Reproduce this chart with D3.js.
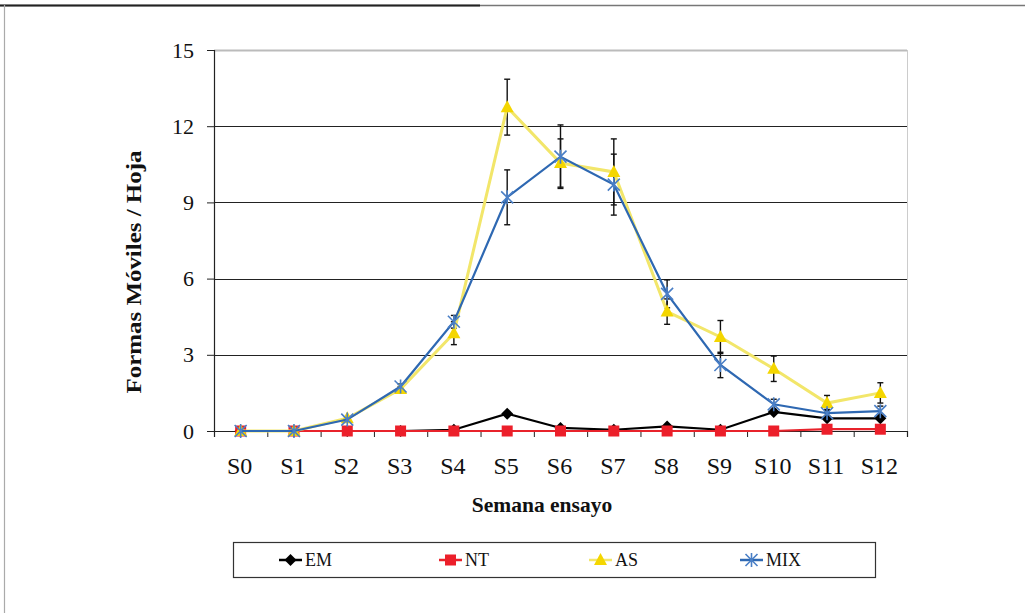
<!DOCTYPE html>
<html><head><meta charset="utf-8">
<script src="https://cdn.jsdelivr.net/npm/d3@7"></script>
<style>body{margin:0;background:#fff}svg{display:block}</style>
</head><body>
<svg id="c" width="1025" height="613"></svg>
<script>
const categories = ["S0","S1","S2","S3","S4","S5","S6","S7","S8","S9","S10","S11","S12"];
const EM  = [0,0,0,0,0.05,0.68,0.12,0.05,0.18,0.05,0.75,0.5,0.5];
const NT  = [0,0,0,0,0,0,0,0,0,0,0,0.07,0.07];
const AS  = [0,0,0.5,1.65,3.85,12.75,10.55,10.2,4.7,3.7,2.45,1.1,1.5];
const MIX = [0,0,0.45,1.75,4.3,9.2,10.8,9.7,5.4,2.6,1.05,0.7,0.78];
const AS_err  = [0,0,0.05,0.1,0.45,1.1,0.95,1.3,0.5,0.65,0.5,0.3,0.4];
const MIX_err = [0,0,0.05,0.1,0.25,1.08,1.25,1.2,0.55,0.5,0.2,0.15,0.2];
const yTicks = [0,3,6,9,12,15];
const seriesNames = ["EM","NT","AS","MIX"];

const svg = d3.select("#c");
const L = 214, R = 907, T = 50, B = 431;
const x = d3.scaleBand().domain(categories).range([L,R]).padding(0);
const xi = d3.scaleLinear().domain([0,categories.length]).range([L,R]);
const y = d3.scaleLinear().domain([0,15]).range([B,T]);
const cx = c => x(c) + x.bandwidth()/2;
const serif = "Liberation Serif";

// outer frame
svg.append("line").attr("x1",0).attr("x2",1025).attr("y1",5.5).attr("y2",5.5).attr("stroke","#777").attr("stroke-width",1.5);
svg.append("line").attr("x1",0).attr("x2",480).attr("y1",5.5).attr("y2",5.5).attr("stroke","#222").attr("stroke-width",2);
svg.append("line").attr("x1",4.5).attr("x2",4.5).attr("y1",5).attr("y2",613).attr("stroke","#aaa").attr("stroke-width",1.2);

// gridlines
svg.append("g").selectAll("line").data(yTicks.filter(d=>d>0)).join("line")
  .attr("x1",L).attr("x2",R).attr("y1",d=>Math.round(y(d))+0.5).attr("y2",d=>Math.round(y(d))+0.5)
  .attr("stroke",d=>d===15?"#bbb":"#222").attr("stroke-width",d=>d===15?2:1.2);
svg.append("line").attr("x1",R+0.5).attr("x2",R+0.5).attr("y1",T).attr("y2",B).attr("stroke","#ccc");

// y axis
const ya = svg.append("g").attr("transform",`translate(${L},0)`)
  .call(d3.axisLeft(y).tickValues(yTicks).tickSize(7).tickPadding(13));
ya.select(".domain").attr("stroke","#222").attr("stroke-width",1.2);
ya.selectAll(".tick line").attr("stroke","#222");
ya.selectAll("text").attr("font-family",serif).attr("font-size",22).attr("fill","#111");

// x axis
const xa = svg.append("g").attr("transform",`translate(0,${B})`)
  .call(d3.axisBottom(xi).tickValues(d3.range(0,categories.length+1)).tickFormat("").tickSize(6));
xa.select(".domain").attr("stroke","#222").attr("stroke-width",1.2);
xa.selectAll(".tick line").attr("stroke","#222");
svg.append("g").selectAll("text").data(categories).join("text")
  .attr("x",d=>cx(d)-1).attr("y",474).attr("text-anchor","middle")
  .attr("font-family",serif).attr("font-size",24).attr("fill","#111").text(d=>d);

// titles
svg.append("text").attr("x",542).attr("y",512).attr("text-anchor","middle")
  .attr("font-family",serif).attr("font-weight","bold").attr("font-size",21.5).attr("fill","#111").text("Semana ensayo");
svg.append("text").attr("transform","translate(141,272) rotate(-90)").attr("text-anchor","middle")
  .attr("font-family",serif).attr("font-weight","bold").attr("font-size",22).attr("fill","#111")
  .attr("textLength",243).attr("lengthAdjust","spacingAndGlyphs").text("Formas Móviles / Hoja");

const colors = {EM:"#000000", NT:"#e8232b", AS:"#f2e66a", MIX:"#2e68b2"};
const markerFill = {EM:"#000", NT:"#ec1f2a", AS:"#f4d600", MIX:"#4a7fc6"};
const data = {EM, NT, AS, MIX};
const line = d3.line().x((d,i)=>cx(categories[i])).y(d=>y(d));

function marker(g, name, px, py){
  if(name==="EM"){
    g.append("path").attr("d",`M${px},${py-6}L${px+6},${py}L${px},${py+6}L${px-6},${py}Z`).attr("fill","#000");
  } else if(name==="NT"){
    g.append("rect").attr("x",px-5.5).attr("y",py-5.5).attr("width",11).attr("height",11).attr("fill",markerFill.NT);
  } else if(name==="AS"){
    g.append("path").attr("d",`M${px},${py-7}L${px+6.5},${py+5}L${px-6.5},${py+5}Z`).attr("fill",markerFill.AS);
  } else {
    g.append("path").attr("d",`M${px-6},${py-6}L${px+6},${py+6}M${px-6},${py+6}L${px+6},${py-6}M${px},${py-7}L${px},${py+7}`)
      .attr("stroke",markerFill.MIX).attr("stroke-width",1.6).attr("fill","none");
  }
}

// error bars
function errBars(vals, errs){
  const g = svg.append("g").attr("stroke","#111").attr("stroke-width",1.4);
  vals.forEach((v,i)=>{
    const e = errs[i]; if(!e) return;
    const px = cx(categories[i]);
    g.append("line").attr("x1",px).attr("x2",px).attr("y1",y(v+e)).attr("y2",y(v-e));
    g.append("line").attr("x1",px-3).attr("x2",px+3).attr("y1",y(v+e)).attr("y2",y(v+e));
    g.append("line").attr("x1",px-3).attr("x2",px+3).attr("y1",y(v-e)).attr("y2",y(v-e));
  });
}
errBars(AS, AS_err);
errBars(MIX, MIX_err);

seriesNames.forEach(name=>{
  const g = svg.append("g");
  g.append("path").datum(data[name]).attr("d",line).attr("fill","none")
    .attr("stroke",colors[name]).attr("stroke-width",name==="AS"?3:2.2);
  data[name].forEach((v,i)=>marker(g,name,cx(categories[i]),y(v)));
});

// legend
svg.append("rect").attr("x",233.5).attr("y",542.5).attr("width",642).attr("height",35)
  .attr("fill","#fff").attr("stroke","#333").attr("stroke-width",1.2);
const legX = [279, 439, 589, 740];
seriesNames.forEach((name,i)=>{
  const g = svg.append("g");
  const lx = legX[i], ly = 560;
  g.append("line").attr("x1",lx).attr("x2",lx+23).attr("y1",ly).attr("y2",ly).attr("stroke",colors[name]).attr("stroke-width",2.5);
  marker(g,name,lx+11.5,ly);
  g.append("text").attr("x",lx+26).attr("y",ly+6).attr("font-family",serif).attr("font-size",18).attr("fill","#111").text(name);
});
</script>
</body></html>
